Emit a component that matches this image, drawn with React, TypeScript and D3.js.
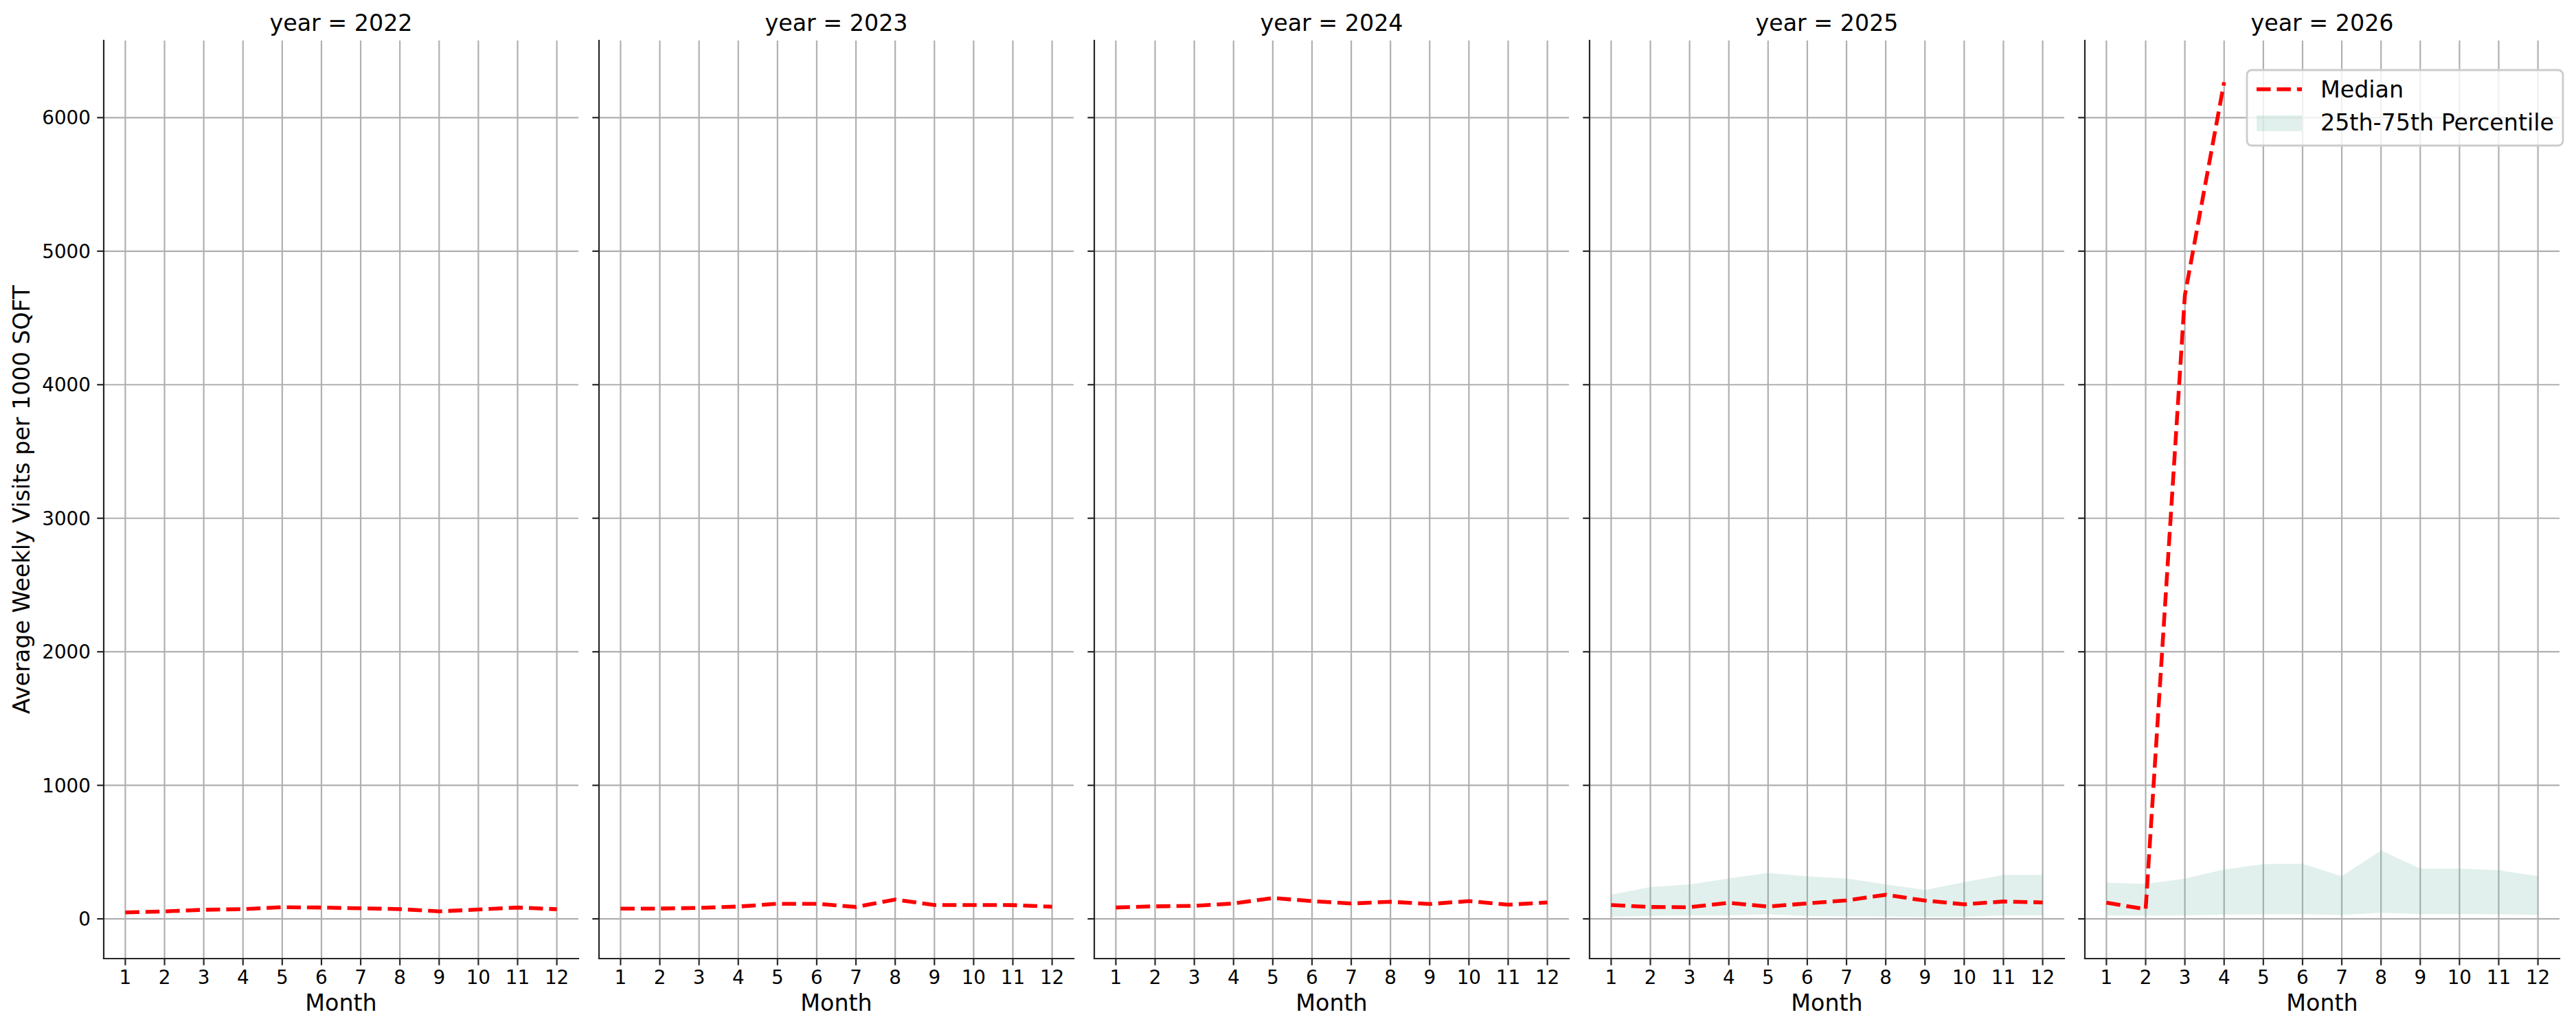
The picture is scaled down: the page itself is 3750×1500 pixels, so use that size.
import { useEffect, useRef } from 'react';
import * as d3 from 'd3';

const years = [2022, 2023, 2024, 2025, 2026];
const months = [1, 2, 3, 4, 5, 6, 7, 8, 9, 10, 11, 12];
const yTicks = [0, 1000, 2000, 3000, 4000, 5000, 6000];

// median per month (2026 only has Jan-Apr)
const median2022 = [48, 56, 68, 73, 87, 85, 79, 73, 56, 70, 85, 72];
const median2023 = [77, 77, 82, 92, 113, 113, 89, 145, 104, 104, 103, 91];
const median2024 = [85, 94, 97, 115, 156, 133, 115, 128, 111, 133, 106, 123];
const median2025 = [104, 89, 87, 120, 92, 116, 138, 180, 137, 109, 130, 123];
const median2026 = [121, 72, 4670, 6265];

// percentile band, only present for 2025 and 2026
const p25_2025 = [15, 22, 26, 26, 34, 21, 19, 17, 15, 15, 26, 26];
const p75_2025 = [181, 238, 258, 303, 344, 318, 303, 258, 217, 274, 328, 328];
const p25_2026 = [26, 24, 26, 31, 33, 34, 29, 46, 36, 36, 34, 29];
const p75_2026 = [271, 262, 302, 370, 410, 412, 319, 513, 376, 376, 364, 319];

const medians = [median2022, median2023, median2024, median2025, median2026];
const lows: (number[] | null)[] = [null, null, null, p25_2025, p25_2026];
const highs: (number[] | null)[] = [null, null, null, p75_2025, p75_2026];

const W = 3750;
const H = 1500;
const FONT = 'DejaVu Sans, sans-serif';

export default function App() {
  const svgRef = useRef<SVGSVGElement | null>(null);

  useEffect(() => {
    if (!svgRef.current) return;
    const svg = d3.select(svgRef.current);
    svg.selectAll('*').remove();

    const panelW = 691;
    const step = 721;
    const left0 = 151;
    const top = 59;
    const bottom = 1396;

    // shared y domain with matplotlib-like 5% margins
    const all = [...medians.flat(), ...(lows.filter(Boolean) as number[][]).flat(), ...(highs.filter(Boolean) as number[][]).flat()];
    const lo = d3.min(all)!;
    const hi = d3.max(all)!;
    const pad = (hi - lo) * 0.05;
    const y = d3.scaleLinear().domain([lo - pad, hi + pad]).range([bottom, top]);

    svg.append('rect').attr('width', W).attr('height', H).attr('fill', 'white');

    years.forEach((year, i) => {
      const left = left0 + i * step;
      const x = d3.scaleLinear().domain([0.45, 12.55]).range([left, left + panelW]);
      const g = svg.append('g');

      // grid
      g.selectAll('line.vg')
        .data(months)
        .enter()
        .append('line')
        .attr('x1', (d) => x(d))
        .attr('x2', (d) => x(d))
        .attr('y1', top)
        .attr('y2', bottom)
        .attr('stroke', '#b0b0b0')
        .attr('stroke-width', 2.2);
      g.selectAll('line.hg')
        .data(yTicks)
        .enter()
        .append('line')
        .attr('x1', left)
        .attr('x2', left + panelW)
        .attr('y1', (d) => y(d))
        .attr('y2', (d) => y(d))
        .attr('stroke', '#b0b0b0')
        .attr('stroke-width', 2.2);

      // percentile band
      const low = lows[i];
      const high = highs[i];
      if (low && high) {
        const area = d3
          .area<number>()
          .x((_, j) => x(months[j]))
          .y0((d) => y(d))
          .y1((_, j) => y(high[j]));
        g.append('path').attr('d', area(low)!).attr('fill', '#69b3a2').attr('fill-opacity', 0.2);
      }

      // median line
      const line = d3
        .line<number>()
        .x((_, j) => x(months[j]))
        .y((d) => y(d));
      g.append('path')
        .attr('d', line(medians[i])!)
        .attr('fill', 'none')
        .attr('stroke', '#ff0000')
        .attr('stroke-width', 5.56)
        .attr('stroke-dasharray', '20.5,8.9');

      // spines
      g.append('line')
        .attr('x1', left)
        .attr('x2', left)
        .attr('y1', top)
        .attr('y2', bottom)
        .attr('stroke', '#262626')
        .attr('stroke-width', 2.2)
        .attr('stroke-linecap', 'square');
      g.append('line')
        .attr('x1', left)
        .attr('x2', left + panelW)
        .attr('y1', bottom)
        .attr('y2', bottom)
        .attr('stroke', '#262626')
        .attr('stroke-width', 2.2)
        .attr('stroke-linecap', 'square');

      // x ticks
      const xt = g.selectAll('g.xt').data(months).enter().append('g');
      xt.append('line')
        .attr('x1', (d) => x(d))
        .attr('x2', (d) => x(d))
        .attr('y1', bottom)
        .attr('y2', bottom + 9.7)
        .attr('stroke', '#262626')
        .attr('stroke-width', 2.2);
      xt.append('text')
        .attr('x', (d) => x(d))
        .attr('y', 1433)
        .attr('text-anchor', 'middle')
        .attr('font-family', FONT)
        .attr('font-size', 27.8)
        .attr('fill', '#000')
        .text((d) => String(d));

      // y ticks (labels on first panel only)
      const yt = g.selectAll('g.yt').data(yTicks).enter().append('g');
      yt.append('line')
        .attr('x1', left - 9.7)
        .attr('x2', left)
        .attr('y1', (d) => y(d))
        .attr('y2', (d) => y(d))
        .attr('stroke', '#262626')
        .attr('stroke-width', 2.2);
      if (i === 0) {
        yt.append('text')
          .attr('x', left - 19)
          .attr('y', (d) => y(d) + 10)
          .attr('text-anchor', 'end')
          .attr('font-family', FONT)
          .attr('font-size', 27.8)
          .attr('fill', '#000')
          .text((d) => String(d));
      }

      // title + x label
      g.append('text')
        .attr('x', left + panelW / 2)
        .attr('y', 45)
        .attr('text-anchor', 'middle')
        .attr('font-family', FONT)
        .attr('font-size', 33.3)
        .attr('fill', '#000')
        .text(`year = ${year}`);
      g.append('text')
        .attr('x', left + panelW / 2)
        .attr('y', 1472)
        .attr('text-anchor', 'middle')
        .attr('font-family', FONT)
        .attr('font-size', 33.3)
        .attr('fill', '#000')
        .text('Month');
    });

    // y label
    svg
      .append('text')
      .attr('transform', `translate(43,${(top + bottom) / 2}) rotate(-90)`)
      .attr('text-anchor', 'middle')
      .attr('font-family', FONT)
      .attr('font-size', 33.3)
      .attr('fill', '#000')
      .text('Average Weekly Visits per 1000 SQFT');

    // legend
    const lg = svg.append('g');
    lg.append('rect')
      .attr('x', 3271)
      .attr('y', 102)
      .attr('width', 460)
      .attr('height', 110)
      .attr('rx', 7)
      .attr('fill', 'white')
      .attr('fill-opacity', 0.8)
      .attr('stroke', '#cccccc')
      .attr('stroke-width', 2.8);
    lg.append('line')
      .attr('x1', 3285)
      .attr('x2', 3351)
      .attr('y1', 130)
      .attr('y2', 130)
      .attr('stroke', '#ff0000')
      .attr('stroke-width', 5.56)
      .attr('stroke-dasharray', '20.5,8.9');
    lg.append('text')
      .attr('x', 3378)
      .attr('y', 142)
      .attr('font-family', FONT)
      .attr('font-size', 33.3)
      .attr('fill', '#000')
      .text('Median');
    lg.append('rect')
      .attr('x', 3285)
      .attr('y', 168)
      .attr('width', 66)
      .attr('height', 23)
      .attr('fill', '#69b3a2')
      .attr('fill-opacity', 0.2);
    lg.append('text')
      .attr('x', 3378)
      .attr('y', 190)
      .attr('font-family', FONT)
      .attr('font-size', 33.3)
      .attr('fill', '#000')
      .text('25th-75th Percentile');
  }, []);

  return (
    <svg
      ref={svgRef}
      width={W}
      height={H}
      style={{ position: 'absolute', left: 0, top: 0, display: 'block' }}
    />
  );
}
